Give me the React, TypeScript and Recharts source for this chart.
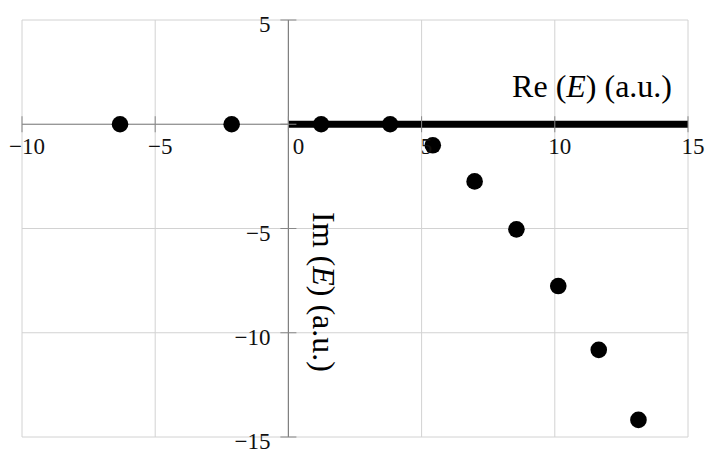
import React from 'react';
import { ScatterChart, Scatter, XAxis, YAxis, CartesianGrid, ReferenceLine } from 'recharts';

// complex energies: real part on x, imaginary part on y
const reValues = [-6.32, -2.13, 1.23, 3.82, 5.42, 6.99, 8.56, 10.13, 11.65, 13.14];
const imValues = [0, 0, 0, 0, -1.01, -2.74, -5.04, -7.76, -10.82, -14.18];

// thick bar along the positive real axis
const cutX = [0, 15];
const cutY = [0, 0];

const xTicks = [-10, -5, 0, 5, 10, 15];
const yTicks = [-15, -10, -5, 0, 5];

const points = reValues.map((x, i) => ({ x, y: imValues[i] }));
const cut = cutX.map((x, i) => ({ x, y: cutY[i] }));

const W = 710;
const H = 450;
const margin = { top: 20, right: 22, bottom: 13, left: 22 };
const xDomain: [number, number] = [-10, 15];
const yDomain: [number, number] = [-15, 5];

// pixel position of the origin, so tick labels sit on the crossing axes
const plotW = W - margin.left - margin.right;
const plotH = H - margin.top - margin.bottom;
const originX = margin.left + ((0 - xDomain[0]) / (xDomain[1] - xDomain[0])) * plotW;
const originY = margin.top + ((yDomain[1] - 0) / (yDomain[1] - yDomain[0])) * plotH;

const FONT = '"Liberation Serif", "Times New Roman", serif';
const fmt = (v: number) => (v < 0 ? `\u2212${-v}` : `${v}`);

const XTick = ({ x, payload }: any) => (
  <g>
    <line x1={x} x2={x} y1={originY - 8} y2={originY + 8} stroke="#888" />
    <text
      x={x + (payload.value === 0 ? 10 : 5)}
      y={originY + 30}
      textAnchor="middle"
      fontSize={23}
      fontFamily={FONT}
      fill="#111"
    >
      {fmt(payload.value)}
    </text>
  </g>
);

const YTick = ({ y, payload }: any) => (
  <g>
    <line x1={originX - 8} x2={originX + 8} y1={y} y2={y} stroke="#888" />
    {payload.value !== 0 && (
      <text x={originX - 18} y={y + 12} textAnchor="end" fontSize={23} fontFamily={FONT} fill="#111">
        {fmt(payload.value)}
      </text>
    )}
  </g>
);

const Dot = ({ cx, cy }: any) => <circle cx={cx} cy={cy} r={8.3} fill="#000" />;

export default function App() {
  return (
    <div style={{ position: 'absolute', left: 0, top: 0, width: W, height: H, background: '#fff' }}>
      <ScatterChart width={W} height={H} margin={margin}>
        <CartesianGrid stroke="#d2d2d2" />
        <XAxis
          type="number"
          dataKey="x"
          domain={xDomain}
          ticks={xTicks}
          mirror
          axisLine={false}
          tickLine={false}
          tick={<XTick />}
        />
        <YAxis
          type="number"
          dataKey="y"
          domain={yDomain}
          ticks={yTicks}
          mirror
          axisLine={false}
          tickLine={false}
          tick={<YTick />}
        />
        <ReferenceLine x={0} stroke="#808080" strokeWidth={1.2} />
        <ReferenceLine y={0} stroke="#808080" strokeWidth={1.2} />
        <Scatter
          data={cut}
          line={{ stroke: '#000', strokeWidth: 7 }}
          shape={() => <g />}
          isAnimationActive={false}
        />
        <Scatter data={points} shape={<Dot />} isAnimationActive={false} />
      </ScatterChart>
      <svg
        width={W}
        height={H}
        style={{ position: 'absolute', left: 0, top: 0, pointerEvents: 'none' }}
      >
        <text x={672} y={97} textAnchor="end" fontSize={32} fontFamily={FONT} fill="#000">
          Re (<tspan fontStyle="italic">E</tspan>) (a.u.)
        </text>
        <g transform="translate(313, 292) rotate(90)">
          <text x={0} y={0} textAnchor="middle" fontSize={32} fontFamily={FONT} fill="#000">
            Im (<tspan fontStyle="italic">E</tspan>) (a.u.)
          </text>
        </g>
      </svg>
    </div>
  );
}
